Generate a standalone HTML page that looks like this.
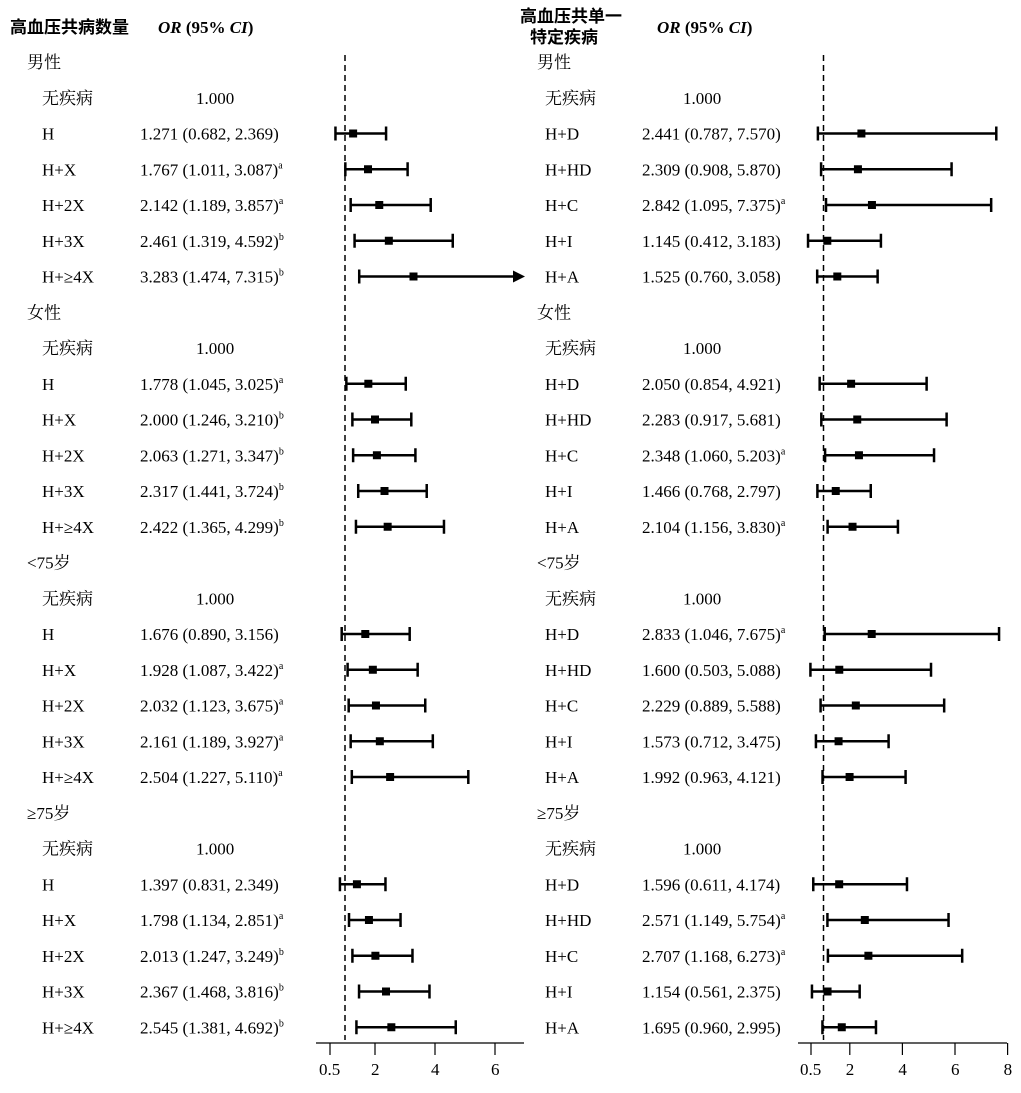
<!DOCTYPE html>
<html><head><meta charset="utf-8"><style>
html,body{margin:0;padding:0;background:#fff}
svg{display:block}
text{font-family:"Liberation Serif","Noto Serif CJK SC",serif;font-size:17px;fill:#000}
.cj{font-family:"Liberation Serif","Noto Serif CJK SC",serif}
.hd{font-family:"Liberation Sans","Noto Sans CJK SC",sans-serif;font-weight:bold;font-size:17px}
.or{font-weight:bold;font-size:17px}
</style></head><body>
<svg id="s" width="1021" height="1093" xmlns="http://www.w3.org/2000/svg"></svg>
<script>
const s=document.getElementById('s');let h='';
function T(x,y,t,c){h+=`<text x="${x}" y="${y}" ${c?'class="'+c+'"':''}>${t}</text>`;}
h+=`<text x="10" y="33" class="hd">高血压共病数量</text>`;
h+=`<text x="158" y="33" class="or"><tspan font-style="italic">OR</tspan> (95% <tspan font-style="italic">CI</tspan>)</text>`;
h+=`<text x="520" y="22" class="hd">高血压共单一</text><text x="530" y="43" class="hd">特定疾病</text>`;
h+=`<text x="657" y="33" class="or"><tspan font-style="italic">OR</tspan> (95% <tspan font-style="italic">CI</tspan>)</text>`;
const groups=['男性','女性','&lt;75岁','≥75岁'];
const L=[
[[1.271,.682,2.369,''],[1.767,1.011,3.087,'a'],[2.142,1.189,3.857,'a'],[2.461,1.319,4.592,'b'],[3.283,1.474,7.315,'b']],
[[1.778,1.045,3.025,'a'],[2.000,1.246,3.210,'b'],[2.063,1.271,3.347,'b'],[2.317,1.441,3.724,'b'],[2.422,1.365,4.299,'b']],
[[1.676,.890,3.156,''],[1.928,1.087,3.422,'a'],[2.032,1.123,3.675,'a'],[2.161,1.189,3.927,'a'],[2.504,1.227,5.110,'a']],
[[1.397,.831,2.349,''],[1.798,1.134,2.851,'a'],[2.013,1.247,3.249,'b'],[2.367,1.468,3.816,'b'],[2.545,1.381,4.692,'b']]];
const R=[
[[2.441,.787,7.570,''],[2.309,.908,5.870,''],[2.842,1.095,7.375,'a'],[1.145,.412,3.183,''],[1.525,.760,3.058,'']],
[[2.050,.854,4.921,''],[2.283,.917,5.681,''],[2.348,1.060,5.203,'a'],[1.466,.768,2.797,''],[2.104,1.156,3.830,'a']],
[[2.833,1.046,7.675,'a'],[1.600,.503,5.088,''],[2.229,.889,5.588,''],[1.573,.712,3.475,''],[1.992,.963,4.121,'']],
[[1.596,.611,4.174,''],[2.571,1.149,5.754,'a'],[2.707,1.168,6.273,'a'],[1.154,.561,2.375,''],[1.695,.960,2.995,'']]];
const LN=['H','H+X','H+2X','H+3X','H+≥4X'],RN=['H+D','H+HD','H+C','H+I','H+A'];
const lx=v=>345+(v-1)*30, rx=v=>823.5+(v-1)*26.3;
function f(v){return v.toFixed(3)}
function panel(D,names,gx,sx,ox,onex,X,maxX){
 for(let g=0;g<4;g++){
  const base=g*7;
  let y=62+base*35.75;
  T(gx,y+6,groups[g]);
  y+=35.75; T(sx,y+6,'无疾病'); T(onex,y+6,'1.000');
  for(let i=0;i<5;i++){
   y=62+(base+2+i)*35.75;const d=D[g][i];
   T(sx,y+6,names[i]);
   h+=`<text x="${ox}" y="${y+6}">${f(d[0])} (${f(d[1])}, ${f(d[2])})${d[3]?'<tspan font-size="10" dy="-7">'+d[3]+'</tspan>':''}</text>`;
   const a=X(d[1]),p=X(d[0]);let b=X(d[2]);
   if(b>maxX){b=maxX;
    h+=`<line x1="${a}" y1="${y}" x2="${b-8}" y2="${y}" stroke="#000" stroke-width="2.5"/><polygon points="${b},${y} ${b-12},${y-6} ${b-12},${y+6}" fill="#000"/>`;
    h+=`<line x1="${a}" y1="${y-7}" x2="${a}" y2="${y+7}" stroke="#000" stroke-width="2.5"/>`;
   } else {
    h+=`<line x1="${a}" y1="${y}" x2="${b}" y2="${y}" stroke="#000" stroke-width="2.5"/>`;
    h+=`<line x1="${a}" y1="${y-7}" x2="${a}" y2="${y+7}" stroke="#000" stroke-width="2.5"/><line x1="${b}" y1="${y-7}" x2="${b}" y2="${y+7}" stroke="#000" stroke-width="2.5"/>`;
   }
   h+=`<rect x="${p-4}" y="${y-4}" width="8" height="8" fill="#000"/>`;
  }
 }
}
panel(L,LN,27,42,140,196,lx,525);
panel(R,RN,537,545,642,683,rx,1010);
// dashed
h+=`<line x1="345" y1="55" x2="345" y2="1040" stroke="#000" stroke-width="1.5" stroke-dasharray="6,4"/>`;
h+=`<line x1="823.5" y1="55" x2="823.5" y2="1040" stroke="#000" stroke-width="1.5" stroke-dasharray="6,4"/>`;
// axes
h+=`<line x1="316" y1="1043" x2="524" y2="1043" stroke="#000" stroke-width="1.2"/>`;
[[0.5,'0.5'],[2,'2'],[4,'4'],[6,'6']].forEach(([v,t])=>{const x=v==0.5?330:lx(v);h+=`<line x1="${x}" y1="1043" x2="${x}" y2="1055" stroke="#000" stroke-width="1.2"/>`;T(x-(t.length>1?11:4),1075,t);});
h+=`<line x1="798" y1="1043" x2="1007" y2="1043" stroke="#000" stroke-width="1.2"/>`;
[[0.5,'0.5'],[2,'2'],[4,'4'],[6,'6'],[8,'8']].forEach(([v,t])=>{const x=v==0.5?811:rx(v);h+=`<line x1="${x}" y1="1043" x2="${x}" y2="1055" stroke="#000" stroke-width="1.2"/>`;T(x-(t.length>1?11:4),1075,t);});
s.innerHTML=h;
</script>
</body></html>
